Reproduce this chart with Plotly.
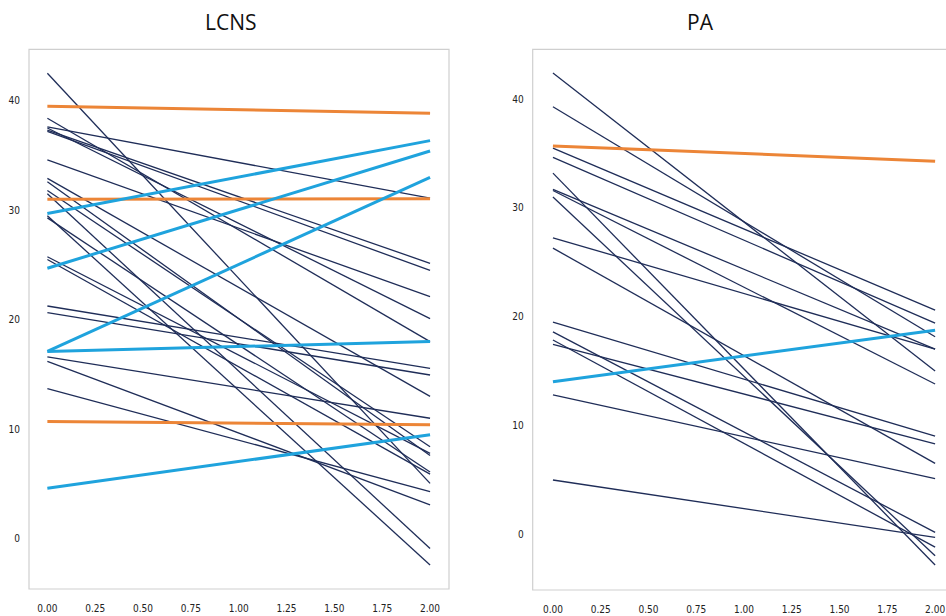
import plotly.graph_objects as go

W, H = 946, 616

x_pts = [0, 2]

# LCNS panel
lcns_dark_start = [42.5, 38.4, 37.6, 37.5, 37.3, 37.2, 34.6, 32.9, 32.6, 31.8, 31.5,
                   29.5, 29.3, 25.75, 25.5, 21.25, 20.65, 16.6, 16.2, 13.7]
lcns_dark_end = [5.05, 18.0, 31.1, 20.1, 25.15, 24.5, 22.1, 13.0, 7.6, 8.4, -0.9,
                 -2.4, 6.1, 7.8, 5.9, 15.55, 14.95, 11.0, 3.1, 4.3]
lcns_orange_start = [39.5, 31.0, 10.7]
lcns_orange_end = [38.85, 31.05, 10.4]
lcns_blue_start = [29.7, 24.7, 17.1, 17.1, 4.6]
lcns_blue_end = [36.35, 35.4, 33.0, 18.0, 9.5]

# PA panel
pa_dark_start = [42.4, 39.3, 35.5, 34.65, 33.2, 31.7, 31.6, 31.0, 27.25, 26.3,
                 19.5, 18.6, 17.85, 17.45, 12.8, 4.97]
pa_dark_end = [15.0, 18.15, 20.6, 19.4, -2.85, 17.0, 13.8, -2.0, 17.0, 6.5,
               9.0, 0.15, -1.2, 8.3, 5.1, -0.3]
pa_orange_start = [35.7]
pa_orange_end = [34.3]
pa_blue_start = [14.0]
pa_blue_end = [18.75]

x_tickvals = [0, 0.25, 0.5, 0.75, 1.0, 1.25, 1.5, 1.75, 2.0]
y_tickvals = [0, 10, 20, 30, 40]

DARK = "#1f2d58"
ORANGE = "#ec8537"
BLUE = "#1fa3dd"

fig = go.Figure()


def add_lines(starts, ends, color, width, xa, ya):
    for s, e in zip(starts, ends):
        fig.add_trace(go.Scatter(x=x_pts, y=[s, e], mode="lines",
                                 line=dict(color=color, width=width),
                                 xaxis=xa, yaxis=ya, showlegend=False,
                                 hoverinfo="skip"))


add_lines(lcns_dark_start, lcns_dark_end, DARK, 1.3, "x", "y")
add_lines(lcns_orange_start, lcns_orange_end, ORANGE, 3, "x", "y")
add_lines(lcns_blue_start, lcns_blue_end, BLUE, 3, "x", "y")

add_lines(pa_dark_start, pa_dark_end, DARK, 1.3, "x2", "y2")
add_lines(pa_orange_start, pa_orange_end, ORANGE, 3, "x2", "y2")
add_lines(pa_blue_start, pa_blue_end, BLUE, 3, "x2", "y2")

tick_font = dict(family="DejaVu Sans Condensed, Liberation Sans Narrow, DejaVu Sans",
                 size=10, color="#222222")

def px_x(p):
    return p / W

def px_y(p):
    return (H - p) / H

ax_common = dict(showgrid=False, zeroline=False, showline=False,
                 tickfont=tick_font, ticks="")

fig.update_layout(
    width=W, height=H,
    margin=dict(l=0, r=0, t=0, b=0),
    paper_bgcolor="white", plot_bgcolor="white",
    xaxis=dict(domain=[px_x(29), px_x(449)], range=[-0.096, 2.099],
               tickvals=x_tickvals, tickformat=".2f", ticklabelstandoff=12,
               anchor="y", **ax_common),
    yaxis=dict(domain=[px_y(589), px_y(49.3)], range=[-4.59, 44.69],
               tickvals=y_tickvals, ticklabelstandoff=8, anchor="x", **ax_common),
    xaxis2=dict(domain=[px_x(532.7), 1.0], range=[-0.106, 2.057],
                tickvals=x_tickvals, tickformat=".2f", ticklabelstandoff=12,
                anchor="y2", **ax_common),
    yaxis2=dict(domain=[px_y(590), px_y(49.3)], range=[-5.15, 44.59],
                tickvals=y_tickvals, ticklabelstandoff=8, anchor="x2", **ax_common),
)

frame = dict(color="#cfcfcf", width=1.2)
fig.add_shape(type="rect", xref="paper", yref="paper",
              x0=px_x(29), x1=px_x(449), y0=px_y(589), y1=px_y(49.3), line=frame)
fig.add_shape(type="rect", xref="paper", yref="paper",
              x0=px_x(532.7), x1=px_x(960), y0=px_y(590), y1=px_y(49.3), line=frame)

title_font = dict(family="Open Sans, DejaVu Sans", size=21, color="#111111")
fig.add_annotation(text="LCNS", xref="paper", yref="paper", x=px_x(231), y=px_y(22),
                   showarrow=False, font=title_font, xanchor="center", yanchor="middle")
fig.add_annotation(text="PA", xref="paper", yref="paper", x=px_x(700), y=px_y(22),
                   showarrow=False, font=title_font, xanchor="center", yanchor="middle")

fig.write_html("out.html")
